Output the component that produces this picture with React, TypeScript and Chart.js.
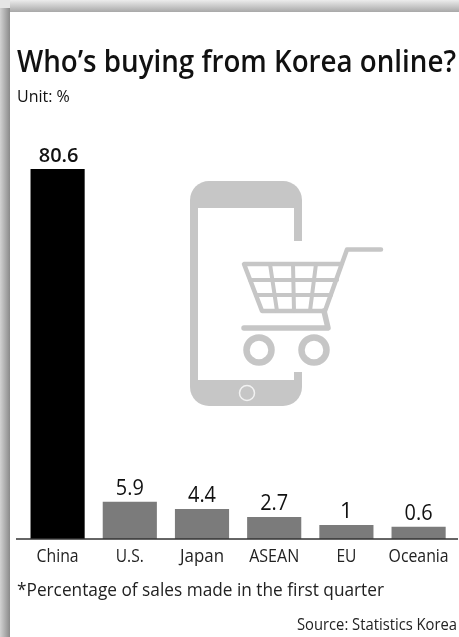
import React, { useEffect, useRef } from "react";
import { Chart, registerables, LinearScale } from "chart.js";

const categories = ["China", "U.S.", "Japan", "ASEAN", "EU", "Oceania"];
const shares = [80.6, 5.9, 4.4, 2.7, 1, 0.6];
const shareLabels = ["80.6", "5.9", "4.4", "2.7", "1", "0.6"];
const barColors = ["#000000", "#7b7b7b", "#7b7b7b", "#7b7b7b", "#7b7b7b", "#7b7b7b"];
const titleText = "Who\u2019s buying from Korea online?";
const unitText = "Unit: %";
const noteText = "*Percentage of sales made in the first quarter";
const sourceText = "Source: Statistics Korea";

// The printed graphic does not draw bars to a uniform scale: small values have a
// raised floor and the long China bar is compressed. This scale reproduces that.
class PrintedScale extends LinearScale {
  static id = "printed";
  static defaults = LinearScale.defaults;
  getPixelForValue(v: number) {
    const u = v <= 5.9 ? v + 2 : 7.9 + (v - 5.9) * 0.948;
    return super.getPixelForValue(u);
  }
}
Chart.register(...registerables, PrintedScale);

const FONT = '"Open Sans", sans-serif';

function drawIcon(ctx: CanvasRenderingContext2D) {
  const c = "#c6c6c6";
  ctx.save();
  ctx.fillStyle = c;
  ctx.beginPath();
  ctx.roundRect(190, 181, 112, 225, 19);
  ctx.fill();
  ctx.fillStyle = "#fff";
  ctx.fillRect(198, 208, 96, 172);
  ctx.fillRect(294, 241, 9, 131);
  ctx.strokeStyle = "#f2f2f2";
  ctx.lineWidth = 1.5;
  ctx.beginPath();
  ctx.arc(247, 393, 7.5, 0, Math.PI * 2);
  ctx.stroke();
  ctx.strokeStyle = c;
  ctx.lineJoin = "round";
  ctx.lineCap = "round";
  ctx.lineWidth = 4.5;
  ctx.beginPath();
  ctx.moveTo(381, 249.5);
  ctx.lineTo(347, 249.5);
  ctx.lineTo(325, 311);
  ctx.lineTo(262, 311);
  ctx.lineTo(244, 264);
  ctx.lineTo(342, 264);
  ctx.stroke();
  ctx.lineWidth = 4;
  ctx.beginPath();
  for (const [a, b, d, e] of [
    [250, 280, 337, 280],
    [256, 295, 331, 295],
    [270, 264, 277, 311],
    [293, 264, 294, 311],
    [316, 264, 310, 311],
  ]) {
    ctx.moveTo(a, b);
    ctx.lineTo(d, e);
  }
  ctx.stroke();
  ctx.lineWidth = 5.5;
  ctx.beginPath();
  ctx.moveTo(324, 311);
  ctx.lineTo(328, 328);
  ctx.lineTo(244, 328);
  ctx.stroke();
  ctx.lineWidth = 6.5;
  ctx.beginPath();
  ctx.arc(259, 350, 12.5, 0, Math.PI * 2);
  ctx.moveTo(326.5, 350);
  ctx.arc(314, 350, 12.5, 0, Math.PI * 2);
  ctx.stroke();
  ctx.restore();
}

const framePlugin = {
  id: "frame",
  beforeDraw(chart: Chart) {
    const { ctx } = chart;
    ctx.save();
    ctx.fillStyle = "#e6e6e6";
    ctx.fillRect(0, 0, 459, 637);
    const left = ctx.createLinearGradient(0, 0, 10, 0);
    left.addColorStop(0, "#d2d2d2");
    left.addColorStop(1, "#8a8a8a");
    ctx.fillStyle = left;
    ctx.fillRect(0, 8, 10, 629);
    const top = ctx.createLinearGradient(0, 0, 0, 12);
    top.addColorStop(0, "#ececec");
    top.addColorStop(1, "#a8a8a8");
    ctx.fillStyle = top;
    ctx.fillRect(10, 0, 449, 12);
    ctx.fillStyle = "#fff";
    ctx.fillRect(10, 12, 449, 625);
    ctx.restore();
    drawIcon(ctx);
  },
};

const textPlugin = {
  id: "texts",
  afterDatasetsDraw(chart: Chart) {
    const { ctx } = chart;
    const bars = chart.getDatasetMeta(0).data;
    ctx.save();
    const y0 = chart.chartArea.bottom;
    ctx.strokeStyle = "#333";
    ctx.lineWidth = 1.5;
    ctx.beginPath();
    ctx.moveTo(16, y0);
    ctx.lineTo(458, y0);
    ctx.stroke();

    ctx.fillStyle = "#111";
    ctx.textBaseline = "alphabetic";
    ctx.textAlign = "left";
    ctx.font = `600 31px ${FONT}`;
    ctx.fillText(titleText, 17, 72, 439);
    ctx.font = `16px ${FONT}`;
    ctx.fillText(unitText, 17, 102, 56);
    ctx.font = `19px ${FONT}`;
    ctx.fillStyle = "#222";
    ctx.fillText(noteText, 17, 596, 367);
    ctx.textAlign = "right";
    ctx.font = `16px ${FONT}`;
    ctx.fillText(sourceText, 457, 630, 160);

    ctx.textAlign = "center";
    bars.forEach((bar: any, i: number) => {
      ctx.font = i === 0 ? `600 20px ${FONT}` : `22px ${FONT}`;
      ctx.fillStyle = "#111";
      ctx.fillText(shareLabels[i], bar.x + (i === 0 ? 1 : 0), bar.y - 7, i === 0 ? 42 : 28);
    });

    // category labels, condensed as in the print, placed from the x axis
    const xs = chart.scales.x;
    ctx.font = `19px ${FONT}`;
    ctx.fillStyle = "#222";
    categories.forEach((label, i) => {
      const widths = [42, 28, 44, 50, 20, 60];
      ctx.fillText(label, xs.getPixelForTick(i), 562, widths[i]);
    });
    ctx.restore();
  },
};

export default function App() {
  const ref = useRef<HTMLCanvasElement>(null);
  useEffect(() => {
    document.body.style.margin = "0";
    const chart = new Chart(ref.current!, {
      type: "bar",
      data: {
        labels: categories,
        datasets: [
          {
            data: shares,
            backgroundColor: barColors,
            base: -2,
            barPercentage: 0.75,
            categoryPercentage: 1,
          } as any,
        ],
      },
      options: {
        animation: false,
        responsive: false,
        layout: { padding: { left: 21.5, right: 4.3, top: 100, bottom: 0 } },
        plugins: { legend: { display: false }, tooltip: { enabled: false }, title: { display: false } },
        scales: {
          x: {
            grid: { display: false },
            border: { display: false },
            afterFit(scale: any) {
              scale.height = 98;
            },
            ticks: { display: false, autoSkip: false },
          },
          y: { type: "printed" as any, display: false, min: 0, max: 93.4 },
        },
      },
      plugins: [framePlugin, textPlugin],
    });
    return () => chart.destroy();
  }, []);
  return <canvas ref={ref} width={459} height={637} style={{ display: "block", filter: "blur(0.5px)" }} />;
}
